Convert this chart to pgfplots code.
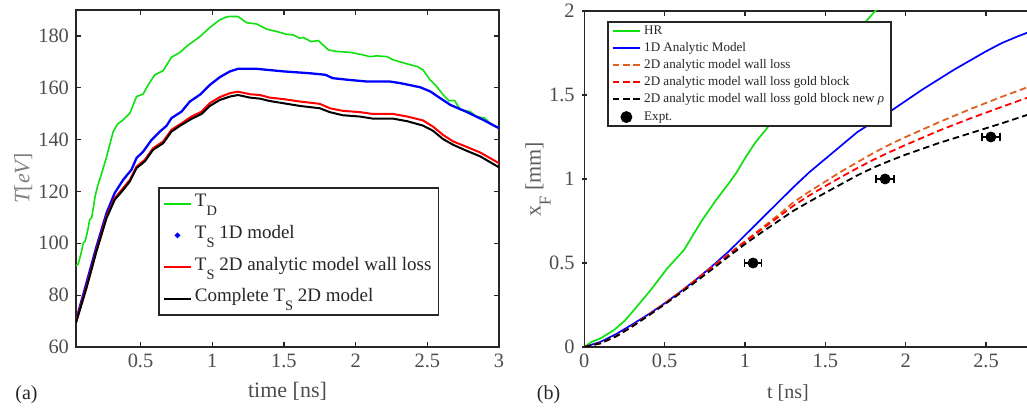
\documentclass[border=0pt]{standalone}
\usepackage{fontspec}
\setmainfont{Liberation Serif}
\usepackage{pgfplots}
\pgfplotsset{compat=1.18}
\definecolor{axgray}{HTML}{262626}
\definecolor{tkgray}{HTML}{4D4D4D}
\definecolor{lbgray}{HTML}{808080}
\definecolor{lbgrayb}{HTML}{5E5E5E}
\definecolor{mgreen}{HTML}{10E010}
\definecolor{mblue}{HTML}{0000FF}
\definecolor{mred}{HTML}{FF0000}
\definecolor{morange}{HTML}{E0601E}
\newcommand{\sub}[1]{\raisebox{-4.5pt}{\fontsize{7.2}{8}\selectfont #1}}
\newcommand{\subl}[1]{\raisebox{-5pt}{\fontsize{8.3}{9}\selectfont #1}}

\pgfplotsset{
  matlab/.style={
    scale only axis,
    /pgf/number format/assume math mode=true,
    axis line style={axgray, line width=0.8pt},
    tick align=inside,
    major tick length=2.6pt,
    major tick style={axgray, line width=0.6pt},
    tick label style={font=\fontsize{10.2}{12}\selectfont, text=tkgray},
    label style={font=\fontsize{11}{13}\selectfont},
  },
  dotlegend/.style={legend image code/.code={\fill[mblue] (6.75pt,0pt) circle (0.7pt);}},
  marklegend/.style={legend image code/.code={\draw[##1] plot coordinates {(6.9pt,0pt)};}},
}

\begin{document}
\begin{tikzpicture}
% ---------- (a) temperatures
\begin{axis}[matlab,
  at={(0pt,0pt)}, anchor=south west,
  width=211.5pt, height=168.5pt,
  xmin=0.05, xmax=3, ymin=60, ymax=190,
  xtick={0.5,1,1.5,2,2.5,3},
  ytick={60,80,100,120,140,160,180},
  xlabel={time [ns]},
  xlabel style={at={(axis description cs:0.5,-0.151)}, anchor=base, text=tkgray},
  ylabel={\itshape T\upshape[\itshape eV\upshape]},
  ylabel style={at={(axis description cs:-0.125,0.5)}, anchor=center, text=lbgray},
  legend style={at={(0.194,0.475)}, anchor=north west, draw=axgray,
    line width=0.9pt, fill=white,
    font=\fontsize{9.5}{11}\selectfont, text=axgray,
    inner xsep=2pt, inner ysep=2.5pt, row sep=4.8pt,
    nodes={inner xsep=1.5pt, inner ysep=0pt, text height=7pt, text depth=4pt}},
  legend cell align=left,
  legend image code/.code={\draw[#1] (0pt,0pt) -- (13.5pt,0pt);},
]
\addplot[mgreen, line width=0.8pt] coordinates {
  (0.05,91.3) (0.065,92) (0.085,96) (0.1,100) (0.115,101) (0.134,105.5)
  (0.145,109) (0.16,110) (0.183,118) (0.2,122) (0.218,125) (0.24,129)
  (0.264,133.5) (0.309,143) (0.34,146) (0.379,147.6) (0.426,150.2)
  (0.472,156.6) (0.519,157.6) (0.553,161.1) (0.6,165) (0.658,166.6)
  (0.716,171.8) (0.774,173.6) (0.833,176.5) (0.914,179.7) (0.984,183.3)
  (1.053,186.2) (1.1,187.3) (1.123,187.5) (1.18,187.5) (1.24,185.1)
  (1.31,184.6) (1.38,182.6) (1.45,181.7) (1.52,180.6) (1.565,180.4)
  (1.61,179.1) (1.635,179.4) (1.69,177.8) (1.74,178.2) (1.81,174.6)
  (1.87,174) (1.96,173.7) (2.05,172.7) (2.1,172) (2.15,172.3) (2.22,172)
  (2.26,170.8) (2.36,169.2) (2.43,168.2) (2.47,166.9) (2.52,163)
  (2.565,160.5) (2.61,157.3) (2.65,155) (2.69,155.1) (2.73,151.5)
  (2.8,150.8) (2.84,148.9) (2.9,148.3) (2.95,145.7) (3.0,144.4)};
\addlegendentry{T\sub{D}}
\addplot[mblue, line width=1.15pt, dotlegend] coordinates {
  (0.05,70.2) (0.123,84.7) (0.193,98.8) (0.263,111.7) (0.32,119.4)
  (0.379,124.5) (0.437,128.4) (0.472,132.9) (0.519,135.4) (0.577,139.9)
  (0.635,143.1) (0.681,145.3) (0.716,148.3) (0.786,150.8) (0.844,154.7)
  (0.914,157.3) (0.984,161.1) (1.053,164.1) (1.123,166.3) (1.18,167.3)
  (1.31,167.3) (1.5,166.3) (1.68,165.6) (1.79,165) (1.84,163.7) (1.96,163)
  (2.08,162.4) (2.24,162.4) (2.31,161.8) (2.45,160.2) (2.52,158.6)
  (2.59,156) (2.66,153.4) (2.77,150.8) (2.89,147.6) (3.0,144.4)};
\addlegendentry{T\sub{S} 1D model}
\addplot[mred, line width=1pt] coordinates {
  (0.05,69.9) (0.123,83.4) (0.193,97.5) (0.263,110.4) (0.32,117.4)
  (0.379,121.3) (0.426,124.5) (0.472,129.6) (0.53,132.2) (0.588,136.7)
  (0.658,139.3) (0.716,143.8) (0.786,146.3) (0.856,148.9) (0.926,150.8)
  (0.984,154.1) (1.053,156.4) (1.123,157.9) (1.18,158.5) (1.263,157.5)
  (1.333,157.2) (1.4,156.2) (1.5,155.6) (1.61,154.7) (1.75,153.8)
  (1.82,152.1) (1.91,151.1) (2.03,150.6) (2.12,149.9) (2.26,149.9)
  (2.36,148.9) (2.47,147.4) (2.54,145) (2.61,141.8) (2.68,139.3)
  (2.77,137.3) (2.87,135) (3.0,130.9)};
\addlegendentry{T\sub{S} 2D analytic model wall loss}
\addplot[black, line width=1pt] coordinates {
  (0.05,69.3) (0.123,82.7) (0.193,96.9) (0.263,109.7) (0.32,116.8)
  (0.379,120.6) (0.426,123.9) (0.472,129.0) (0.53,131.6) (0.588,136.1)
  (0.658,138.6) (0.716,143.1) (0.786,145.7) (0.856,148) (0.926,149.9)
  (0.984,153) (1.053,155.3) (1.123,156.6) (1.18,157.2) (1.263,156.2)
  (1.333,155.8) (1.4,154.9) (1.5,154) (1.61,153) (1.75,152.1)
  (1.82,150.6) (1.91,149.4) (2.03,148.9) (2.12,148.1) (2.26,148.1)
  (2.36,147.1) (2.47,145.4) (2.54,143.4) (2.61,140.2) (2.68,138)
  (2.77,135.8) (2.87,133.5) (3.0,129.3)};
\addlegendentry{Complete T\sub{S} 2D model}
\end{axis}

% ---------- (b) front position
\begin{axis}[matlab,
  at={(254.15pt,0pt)}, anchor=south west,
  width=221.35pt, height=168pt,
  xmin=0, xmax=2.755, ymin=0, ymax=2,
  axis x line=box, axis y line=left, y axis line style={-},
  xtick={0,0.5,1,1.5,2,2.5},
  ytick={0,0.5,1,1.5,2},
  xlabel={t [ns]},
  xlabel style={at={(axis description cs:0.46,-0.152)}, anchor=base, text=tkgray},
  ylabel={x\subl{F} [mm]},
  ylabel style={at={(axis description cs:-0.1046,0.5)}, anchor=center, text=lbgrayb},
  legend style={at={(0.0506,0.970)}, anchor=north west, draw=axgray,
    line width=0.9pt, fill=white,
    font=\fontsize{6.55}{7.5}\selectfont, text=axgray,
    inner xsep=2pt, inner ysep=1.5pt, row sep=2.5pt,
    nodes={inner xsep=1.5pt, inner ysep=0pt, text height=4.6pt, text depth=1.5pt}},
  legend cell align=left,
  legend image code/.code={\draw[#1, line width=1pt] (0pt,0.25pt) -- (13.8pt,0.25pt);},
]
\addplot[mgreen, line width=0.85pt] coordinates {
  (0,0) (0.045,0.03) (0.102,0.052) (0.185,0.101) (0.25,0.155) (0.309,0.22)
  (0.413,0.339) (0.516,0.468) (0.62,0.577) (0.683,0.677) (0.734,0.756)
  (0.82,0.875) (0.907,0.984) (0.944,1.034) (1.006,1.133) (1.068,1.222)
  (1.135,1.3) (1.213,1.41) (1.316,1.568) (1.42,1.66) (1.53,1.75)
  (1.64,1.84) (1.75,1.935) (1.81,2.0) (1.87,2.06)};
\addlegendentry{HR}
\addplot[mblue, line width=0.85pt] coordinates {
  (0,0) (0.1,0.03) (0.2,0.078) (0.3,0.135) (0.4,0.195) (0.5,0.26)
  (0.6,0.33) (0.7,0.405) (0.8,0.485) (0.9,0.57) (1.0,0.665) (1.1,0.76)
  (1.2,0.855) (1.3,0.95) (1.4,1.04) (1.5,1.12) (1.6,1.2) (1.7,1.28)
  (1.8,1.34) (1.9,1.4) (2.0,1.465) (2.1,1.53) (2.2,1.59) (2.3,1.65)
  (2.4,1.705) (2.5,1.76) (2.6,1.81) (2.7,1.85) (2.755,1.87)};
\addlegendentry{1D Analytic Model}
\addplot[morange, line width=0.9pt, dash pattern=on 3.3pt off 1.9pt] coordinates {
  (0,0) (0.1,0.022) (0.2,0.065) (0.3,0.125) (0.4,0.19) (0.5,0.26)
  (0.6,0.33) (0.7,0.405) (0.8,0.48) (0.9,0.555) (1.0,0.63) (1.1,0.705)
  (1.2,0.78) (1.3,0.86) (1.4,0.925) (1.5,0.985) (1.6,1.045) (1.7,1.1)
  (1.8,1.155) (1.9,1.205) (2.0,1.25) (2.2,1.335) (2.4,1.415) (2.6,1.49)
  (2.755,1.545)};
\addlegendentry{2D analytic model wall loss}
\addplot[mred, line width=0.9pt, dash pattern=on 3.3pt off 1.9pt] coordinates {
  (0,0) (0.1,0.022) (0.2,0.065) (0.3,0.125) (0.4,0.19) (0.5,0.258)
  (0.6,0.328) (0.7,0.402) (0.8,0.477) (0.9,0.55) (1.0,0.625) (1.1,0.698)
  (1.2,0.768) (1.3,0.84) (1.4,0.902) (1.5,0.958) (1.6,1.013) (1.7,1.065)
  (1.8,1.115) (1.9,1.16) (2.0,1.203) (2.2,1.285) (2.4,1.36) (2.6,1.43)
  (2.755,1.483)};
\addlegendentry{2D analytic model wall loss gold block}
\addplot[black, line width=0.9pt, dash pattern=on 3.3pt off 1.9pt] coordinates {
  (0,0) (0.1,0.022) (0.2,0.064) (0.3,0.123) (0.4,0.187) (0.5,0.254)
  (0.6,0.322) (0.7,0.393) (0.8,0.466) (0.9,0.54) (1.0,0.612) (1.1,0.68)
  (1.2,0.745) (1.3,0.81) (1.4,0.865) (1.5,0.918) (1.6,0.97) (1.7,1.022)
  (1.8,1.068) (1.9,1.108) (2.0,1.145) (2.2,1.212) (2.4,1.272) (2.6,1.332)
  (2.755,1.381)};
\addlegendentry{2D analytic model wall loss gold block new \textit{ρ}}
\addplot[black, only marks, mark=*, mark size=2.5pt, marklegend,
  error bars/.cd, x dir=both, x explicit,
  error mark=|, error mark options={black, mark size=2pt, line width=0.8pt},
  error bar style={black, line width=0.8pt}] coordinates {
  (1.05,0.5) +- (0.053,0)
  (1.872,1.0) +- (0.055,0)
  (2.53,1.25) +- (0.057,0)};
\addlegendentry{Expt.}
\end{axis}

\node[font=\fontsize{10}{12}\selectfont, text=axgray] at (-24.75pt,-24pt) {(a)};
\node[font=\fontsize{10}{12}\selectfont, text=axgray] at (236.25pt,-24pt) {(b)};

\pgfresetboundingbox
\useasboundingbox (-38pt,-31.5pt) rectangle (475.5pt,173.5pt);
\end{tikzpicture}
\end{document}
